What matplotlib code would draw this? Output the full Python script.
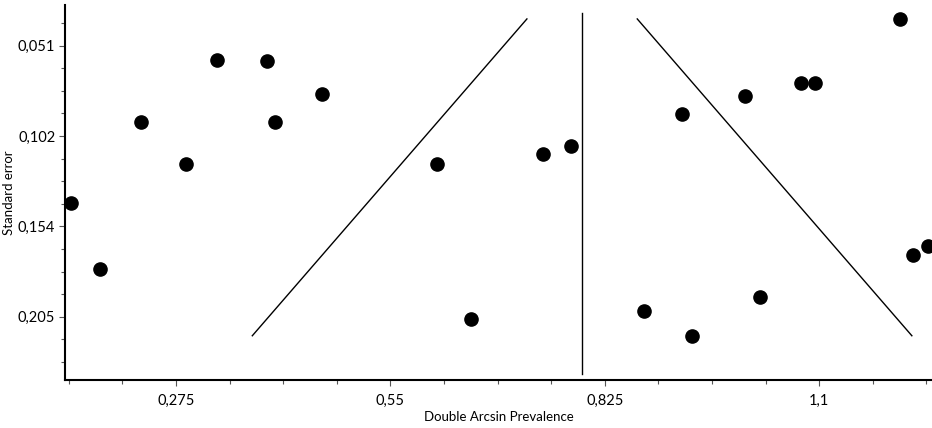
import matplotlib
matplotlib.use("Agg")
import matplotlib.pyplot as plt
from matplotlib.ticker import FixedLocator, MultipleLocator
import numpy as np

# Study effects (double arcsine prevalence) and standard errors
effect = [0.1403, 0.2301, 0.2878, 0.3276, 0.3913, 0.4016, 0.4619, 0.1775,
          0.6094, 0.6538, 0.7458, 0.7817, 0.8749, 0.9369, 1.2037, 1.0763,
          1.0946, 1.0049, 0.9241, 1.2200, 1.2392, 1.0245]
std_err = [0.1403, 0.0947, 0.1185, 0.0595, 0.0599, 0.0944, 0.0787, 0.1779,
           0.1182, 0.2061, 0.1129, 0.1080, 0.2018, 0.2158, 0.0361, 0.0722,
           0.0722, 0.0798, 0.0898, 0.1698, 0.1651, 0.1938]
pooled = 0.7958

x_ticks = [0.275, 0.55, 0.825, 1.1]
x_tick_labels = ["0,275", "0,55", "0,825", "1,1"]
y_ticks = [0.05125, 0.1025, 0.15375, 0.205]
y_tick_labels = ["0,051", "0,102", "0,154", "0,205"]

plt.rcParams['font.family'] = ['Lato', 'DejaVu Sans']

fig = plt.figure(figsize=(9.32, 4.28), dpi=100)
ax = fig.add_axes([65/932, 1-380/428, 1-65/932, (380-5)/428])

# funnel
se_min, se_max = min(std_err), max(std_err)
se_line = np.array([se_min, se_max])
ax.plot(pooled - 1.96*se_line, se_line, color='black', lw=1.0)
ax.plot(pooled + 1.96*se_line, se_line, color='black', lw=1.0)
ax.plot([pooled, pooled], [0.9*se_min, 1.1*se_max], color='black', lw=1.0)

ax.plot(effect, std_err, 'o', color='black', markersize=9.5, linestyle='none')

ax.set_xlim(0.1326, 1.2446)
ax.set_ylim(0.2409, 0.0282)

ax.xaxis.set_major_locator(FixedLocator(x_ticks))
ax.set_xticklabels(x_tick_labels)
ax.xaxis.set_minor_locator(MultipleLocator(0.06875))
ax.yaxis.set_major_locator(FixedLocator(y_ticks))
ax.set_yticklabels(y_tick_labels)
ax.yaxis.set_minor_locator(MultipleLocator(0.0128125))

for s in ['top', 'right']:
    ax.spines[s].set_visible(False)
for s in ['left', 'bottom']:
    ax.spines[s].set_linewidth(1.5)
    ax.spines[s].set_color('black')

ax.tick_params(which='major', length=4, width=0.8, color='#555555', labelsize=10.5, pad=3)
ax.tick_params(which='minor', length=3, width=0.8, color='#555555')
ax.tick_params(axis='x', which='major', pad=6)

ax.set_xlabel("Double Arcsin Prevalence", fontsize=9.5, labelpad=2)
ax.set_ylabel("Standard error", fontsize=9.5, labelpad=2)

fig.savefig("out.png", dpi=100)
